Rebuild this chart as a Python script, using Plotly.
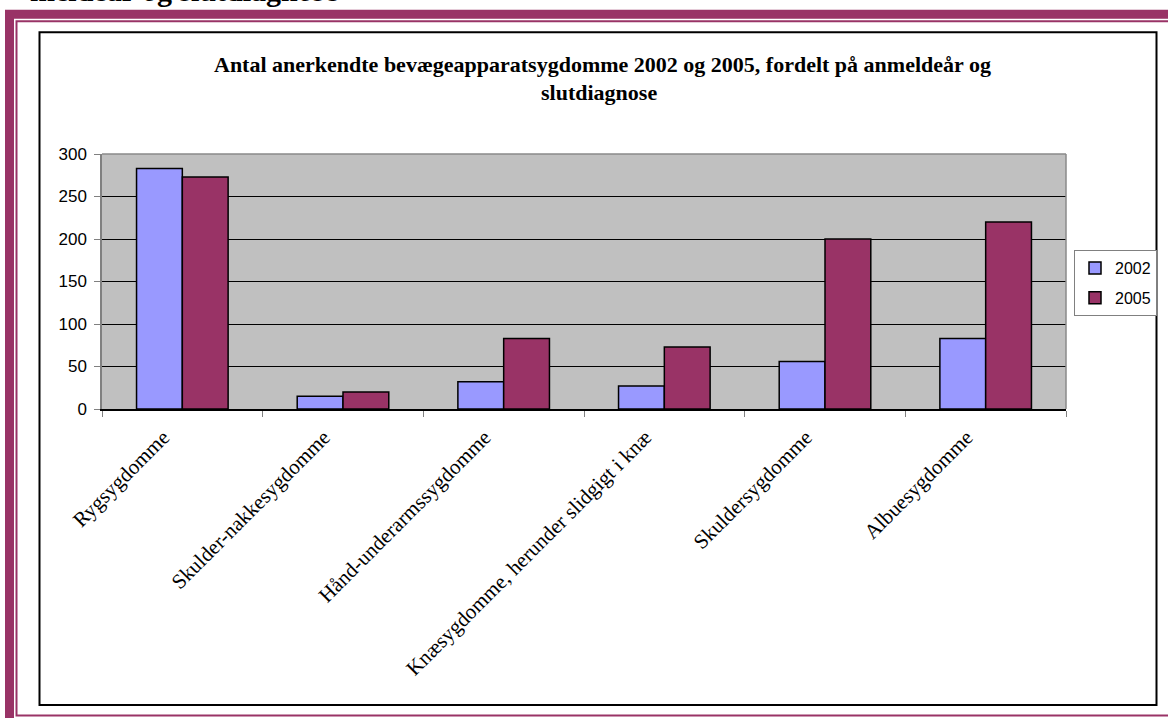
import plotly.graph_objects as go

categories = [
    "Rygsygdomme",
    "Skulder-nakkesygdomme",
    "Hånd-underarmssygdomme",
    "Knæsygdomme, herunder slidgigt i knæ",
    "Skuldersygdomme",
    "Albuesygdomme",
]
values_2002 = [283, 15, 32, 27, 56, 83]
values_2005 = [273, 20, 83, 73, 200, 220]
series_names = ["2002", "2005"]
y_ticks = [0, 50, 100, 150, 200, 250, 300]

title_line1 = "Antal anerkendte bevægeapparatsygdomme 2002 og 2005, fordelt på anmeldeår og"
title_line2 = "slutdiagnose"
clipped_heading = "meldeår og slutdiagnose"

W_FIG, H_FIG = 1168, 718
L, R, T, B = 102, 1066, 153.5, 409
PW, PH = R - L, B - T


def xp(px):
    return (px - L) / PW


def yp(py):
    return (B - py) / PH


MAROON = "#993366"
BLUE = "#9999FF"

fig = go.Figure()
fig.add_trace(go.Bar(
    x=categories, y=values_2002, name=series_names[0],
    marker=dict(color=BLUE, line=dict(color="black", width=1.5)),
    legendgroup="a",
))
fig.add_trace(go.Bar(
    x=categories, y=values_2005, name=series_names[1],
    marker=dict(color=MAROON, line=dict(color="black", width=1.5)),
    legendgroup="b",
))

shapes = [
    # thick maroon frame band (top + left)
    dict(type="rect", xref="paper", yref="paper",
         x0=xp(9.5), x1=xp(1200), y0=yp(13.5), y1=yp(760),
         line=dict(color=MAROON, width=9), fillcolor="rgba(0,0,0,0)", layer="below"),
    # thin maroon frame line
    dict(type="rect", xref="paper", yref="paper",
         x0=xp(16.5), x1=xp(1200), y0=yp(20.5), y1=yp(716),
         line=dict(color=MAROON, width=2), fillcolor="rgba(0,0,0,0)", layer="below"),
    # black chart box
    dict(type="rect", xref="paper", yref="paper",
         x0=xp(39.5), x1=xp(1156.5), y0=yp(31.5), y1=yp(705.5),
         line=dict(color="black", width=2), fillcolor="rgba(0,0,0,0)", layer="below"),
    # plot area top and right border
    dict(type="line", xref="paper", yref="paper", x0=0, x1=1, y0=1, y1=1,
         line=dict(color="#8a8a8a", width=1.5)),
    dict(type="line", xref="paper", yref="paper", x0=1, x1=1, y0=0, y1=1,
         line=dict(color="#8a8a8a", width=1.5)),
]

annotations = [
    dict(text=title_line1, xref="paper", yref="paper", x=xp(602), y=yp(64),
         xanchor="center", yanchor="middle", showarrow=False,
         font=dict(family="Liberation Serif", size=22, color="black", weight="bold")),
    dict(text=title_line2, xref="paper", yref="paper", x=xp(599), y=yp(92),
         xanchor="center", yanchor="middle", showarrow=False,
         font=dict(family="Liberation Serif", size=22, color="black", weight="bold")),
    dict(text=clipped_heading, xref="paper", yref="paper", x=xp(28), y=yp(8),
         xanchor="left", yanchor="bottom", showarrow=False,
         font=dict(family="Liberation Serif", size=30, color="black", weight="bold")),
]

fig.update_layout(
    width=W_FIG, height=H_FIG,
    margin=dict(l=L, r=W_FIG - R, t=T, b=H_FIG - B, pad=0, autoexpand=False),
    paper_bgcolor="white",
    plot_bgcolor="#C0C0C0",
    barmode="group",
    bargap=0.43,
    bargroupgap=0,
    showlegend=True,
    legend=dict(
        xref="container", yref="container",
        x=1074 / W_FIG, y=1 - 250 / H_FIG, xanchor="left", yanchor="top",
        bgcolor="white", bordercolor="#808080", borderwidth=1,
        font=dict(family="Liberation Sans", size=16, color="black"),
        traceorder="grouped", tracegroupgap=6, itemwidth=30,
    ),
    shapes=shapes,
    annotations=annotations,
    xaxis=dict(
        type="category", tickangle=-45, automargin=False,
        tickson="boundaries", ticks="outside", ticklen=6, tickcolor="#808080",
        showline=True, linecolor="black", linewidth=1.5,
        showgrid=False, zeroline=False,
        tickfont=dict(family="Liberation Serif", size=21, color="black"),
        ticklabelstandoff=6, ticklabelshift=-19,
    ),
    yaxis=dict(
        range=[0, 300], tickvals=y_ticks, automargin=False,
        ticks="outside", ticklen=6, tickcolor="#808080",
        showline=True, linecolor="#808080", linewidth=1.5,
        showgrid=True, gridcolor="black", gridwidth=1,
        zeroline=False, ticklabelstandoff=4,
        tickfont=dict(family="Liberation Sans", size=17, color="black"),
    ),
)

fig.write_html(
    "out.html",
    config={"displayModeBar": False},
    post_script="document.body.style.margin='0';document.body.style.overflow='hidden';",
)
